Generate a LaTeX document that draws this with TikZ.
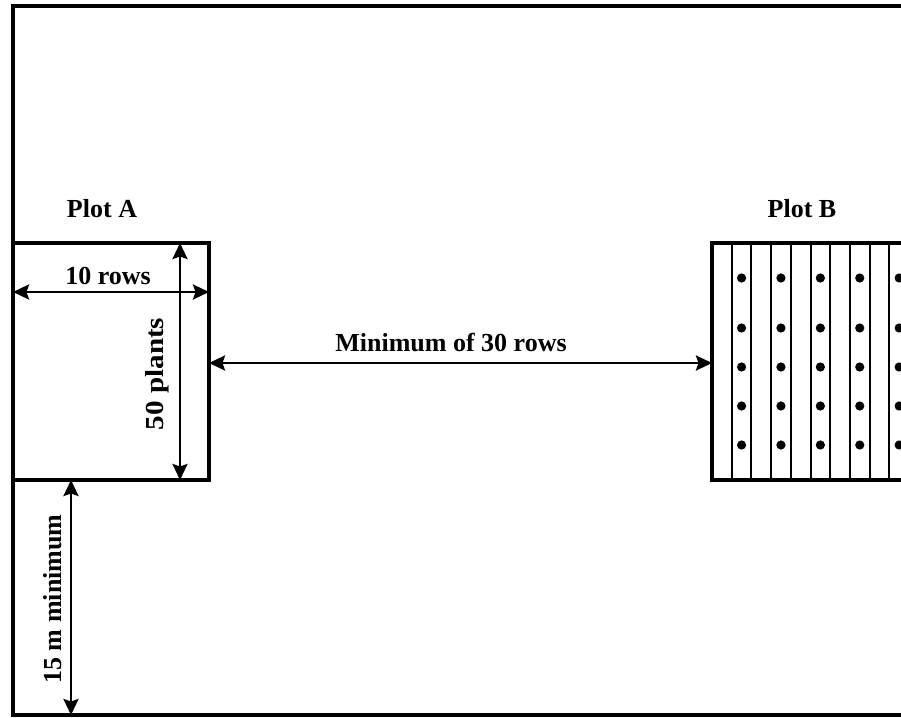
\documentclass[tikz,border=0pt]{standalone}
\usepackage{fontspec}
\setmainfont{Liberation Serif}
\usetikzlibrary{arrows.meta}
\tikzset{
  frame/.style={line width=4pt},
  dimarrow/.style={line width=2.6pt,{Stealth[length=16pt,width=15pt,inset=2.5pt]}-{Stealth[length=16pt,width=15pt,inset=2.5pt]}},
  lbl/.style={font=\fontsize{26}{28}\selectfont\bfseries, inner sep=0pt},
  rowline/.style={line width=2pt},
  plant/.style={fill=black}
}
\begin{document}
\begin{tikzpicture}[x=1pt,y=-1pt]
\clip (0,0) rectangle (901,717);
\fill[white] (0,0) rectangle (901,717);
% field frame
\coordinate (fTR) at (920,6);
\coordinate (fTL) at (13,6);
\coordinate (fBL) at (13,715);
\coordinate (fBR) at (920,715);
\draw[frame] (fTR) -- (fTL) -- (fBL) -- (fBR);
% plot A
\coordinate (aTL) at (13,243);
\coordinate (aTR) at (209,243);
\coordinate (aBR) at (209,480);
\coordinate (aBL) at (13,480);
\draw[frame] (aTL) -- (aTR) -- (aBR) -- (aBL);
% plot B
\coordinate (bTL) at (712,243);
\coordinate (bBR) at (920,480);
\foreach \k in {1,...,9}{
  \draw[rowline] ({712+19.7*\k},243) -- ({712+19.7*\k},480);
}
\foreach \k in {1,3,5,7,9}{
  \foreach \yy in {278,328,367,406,445}{
    \fill[plant] ({712+19.7*(\k+0.5)},\yy) circle (4.6);
  }
}
\draw[frame] (bTL) rectangle (bBR);
% labels
\node[lbl] (plotA) at (102,209) {Plot A};
\node[lbl] (plotB) at (802,209) {Plot B};
% 10 rows
\coordinate (rL) at (13,292);
\coordinate (rR) at (209,292);
\draw[dimarrow] (rL) -- (rR);
\node[lbl] (rowsA) at (108,276) {10 rows};
% 50 plants
\coordinate (pT) at (180,243);
\coordinate (pB) at (180,480);
\draw[dimarrow] (pT) -- (pB);
\node[lbl, rotate=90] (plantsA) at (157,374) {\scalebox{1.12}[1]{50 plants}};
% minimum of 30 rows
\coordinate (mL) at (209,363);
\coordinate (mR) at (712,363);
\draw[dimarrow] (mL) -- (mR);
\node[lbl] (minrows) at (451,343) {Minimum of 30 rows};
% 15 m minimum
\coordinate (dT) at (71,480);
\coordinate (dB) at (71,715);
\draw[dimarrow] (dT) -- (dB);
\node[lbl, rotate=90] (fifteen) at (53,599) {15 m minimum};
\end{tikzpicture}
\end{document}
